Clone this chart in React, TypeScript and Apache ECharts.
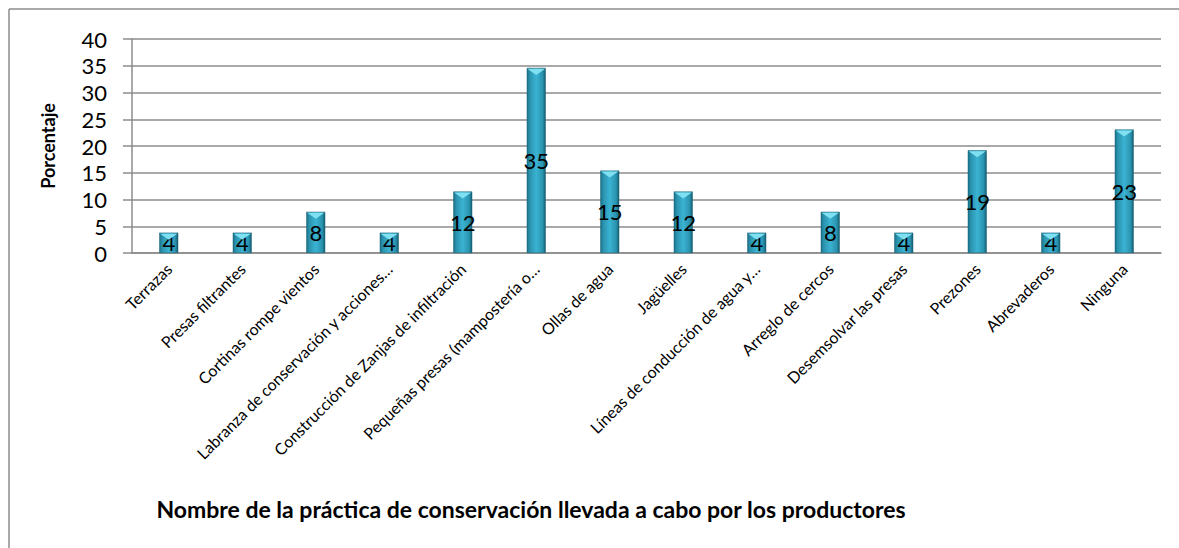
import React, { useEffect, useRef } from "react";
import * as echarts from "echarts";

const categories = [
  "Terrazas",
  "Presas filtrantes",
  "Cortinas rompe vientos",
  "Labranza de conservación y acciones…",
  "Construcción de Zanjas de infiltración",
  "Pequeñas presas (mampostería o…",
  "Ollas de agua",
  "Jagüelles",
  "Líneas de conducción de agua y…",
  "Arreglo de cercos",
  "Desemsolvar las presas",
  "Prezones",
  "Abrevaderos",
  "Ninguna",
];
const values = [3.8, 3.8, 7.7, 3.8, 11.5, 34.6, 15.4, 11.5, 3.8, 7.7, 3.8, 19.2, 3.8, 23.1];
const yTicks = { min: 0, max: 40, interval: 5 };
const yName = "Porcentaje";
const xName = "Nombre de la práctica de conservación llevada a cabo por los productores";

const FONT = "Lato, 'Open Sans', sans-serif";

export default function App() {
  const ref = useRef<HTMLDivElement>(null);
  useEffect(() => {
    if (!ref.current) return;
    const chart = echarts.init(ref.current, null, { renderer: "svg" });
    chart.setOption({
      animation: false,
      backgroundColor: "#ffffff",
      textStyle: { fontFamily: FONT },
      grid: { left: 132, right: 18, top: 39, bottom: 295, containLabel: false },
      xAxis: {
        type: "category",
        data: categories,
        axisLine: { lineStyle: { color: "#8c8c8c", width: 1.5 } },
        axisTick: { show: false },
        axisLabel: {
          rotate: 45,
          interval: 0,
          fontSize: 16,
          color: "#000",
          fontFamily: FONT,
          margin: 13,
        },
      },
      yAxis: {
        type: "value",
        min: yTicks.min,
        max: yTicks.max,
        interval: yTicks.interval,
        name: yName,
        nameLocation: "middle",
        nameGap: 75,
        nameRotate: 90,
        nameTextStyle: { fontSize: 18, fontWeight: "bold", color: "#000", fontFamily: FONT },
        axisLine: { show: true, lineStyle: { color: "#8c8c8c", width: 1.5 } },
        axisTick: { show: true, length: 9, lineStyle: { color: "#8c8c8c", width: 1.5 } },
        axisLabel: { fontSize: 22, color: "#000", margin: 25, fontFamily: FONT },
        splitLine: { lineStyle: { color: "#8c8c8c", width: 1.5 } },
      },
      series: [
        {
          type: "bar",
          data: values,
          barWidth: 19,
          itemStyle: {
            color: new echarts.graphic.LinearGradient(0, 0, 1, 0, [
              { offset: 0, color: "#1a6f86" },
              { offset: 0.15, color: "#2a93ae" },
              { offset: 0.5, color: "#3ab3d2" },
              { offset: 0.85, color: "#2a93ae" },
              { offset: 1, color: "#135a6d" },
            ]),
            borderColor: "#1b6478",
            borderWidth: 0.5,
          },
          label: {
            show: true,
            position: "inside",
            color: "#000",
            fontSize: 22,
            fontFamily: FONT,
            formatter: (p: any) => String(Math.round(p.value)),
          },
          z: 2,
        },
        {
          type: "pictorialBar",
          data: values,
          symbol: "path://M0,0 L10,0 L5,4 Z",
          symbolSize: [17, 6],
          symbolPosition: "end",
          symbolOffset: [0, 1],
          itemStyle: { color: "#7fe0f2" },
          z: 3,
          silent: true,
        },
      ],
      graphic: [
        { type: "line", shape: { x1: 9, y1: 9, x2: 1179, y2: 9 }, style: { stroke: "#8c8c8c", lineWidth: 1.5 } },
        { type: "line", shape: { x1: 9, y1: 9, x2: 9, y2: 548 }, style: { stroke: "#8c8c8c", lineWidth: 1.5 } },
        {
          type: "text",
          x: 531,
          y: 509,
          style: {
            text: xName,
            fontSize: 23,
            fontWeight: "bold",
            fill: "#000",
            fontFamily: FONT,
            align: "center",
            verticalAlign: "middle",
          },
        },
      ],
    });
    return () => chart.dispose();
  }, []);
  return <div ref={ref} style={{ position: "fixed", left: 0, top: 0, width: 1179, height: 548 }} />;
}
